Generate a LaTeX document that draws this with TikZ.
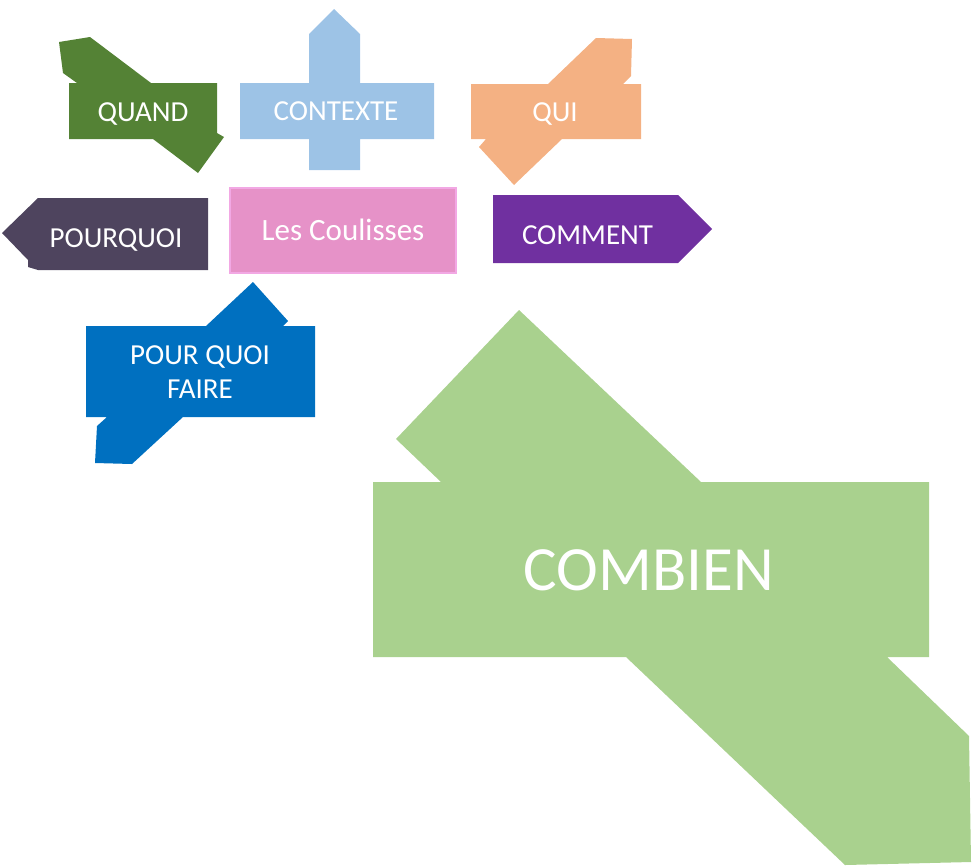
\documentclass[tikz,border=0pt]{standalone}
\usepackage{fontspec}
\setmainfont{Carlito}
\definecolor{cquand}{HTML}{548235}
\definecolor{ccontexte}{HTML}{9DC3E6}
\definecolor{cqui}{HTML}{F4B183}
\definecolor{cpourquoi}{HTML}{4E445E}
\definecolor{ccoulfill}{HTML}{E692C8}
\definecolor{ccouldraw}{HTML}{F2A8E4}
\definecolor{ccomment}{HTML}{7030A0}
\definecolor{cpqf}{HTML}{0070C0}
\definecolor{ccombien}{HTML}{A9D18E}
\begin{document}
\begin{tikzpicture}[x=1pt,y=-1pt,
  blob/.style={draw=none},
  lbl/.style={text=white, anchor=base, inner sep=0pt, font=\fontsize{29}{34}\selectfont}]
\useasboundingbox (0,0) rectangle (973,865);
% QUAND
\fill[cquand] (69,83) -- (77,83) -- (63,73) -- (59,42) -- (90,37) -- (151,83) -- (217,83) -- (217,133) -- (224,137) -- (198,173) -- (153,139) -- (69,139) -- cycle;
% CONTEXTE
\fill[ccontexte] (240,83) -- (309,83) -- (309,34) -- (334,9) -- (360,34) -- (360,83) -- (434,83) -- (434,139) -- (360,139) -- (360,170) -- (309,170) -- (309,139) -- (240,139) -- cycle;
% QUI
\fill[cqui] (471,84) -- (548,84) -- (596,38) -- (632,39) -- (631,76) -- (623,84) -- (641,84) -- (641,139) -- (562,139) -- (514,185) -- (479,147) -- (486,139) -- (471,139) -- cycle;
% POURQUOI
\fill[cpourquoi] (38,198) -- (208,198) -- (208,270) -- (38,270) -- (28,267) -- (28,260) -- (2,233) -- cycle;
% Les Coulisses
\filldraw[fill=ccoulfill, draw=ccouldraw, line width=1.5pt] (230,188) rectangle (456,273);
% COMMENT
\fill[ccomment] (493,195) -- (678,195) -- (712,229) -- (678,263) -- (493,263) -- cycle;
% POUR QUOI FAIRE
\fill[cpqf] (86,326) -- (206,326) -- (253,282) -- (288,321) -- (283,326) -- (315,326) -- (315,417) -- (183,417) -- (132,464) -- (95,463) -- (97,426) -- (107,417) -- (86,417) -- cycle;
% COMBIEN
\fill[ccombien] (373,482) -- (441,482) -- (396,439) -- (519,310) -- (701,482) -- (929,482) -- (929,657) -- (887,657) -- (969,736) -- (971,862) -- (845,865) -- (626,657) -- (373,657) -- cycle;
% labels
\node[lbl] (tquand) at (143,121) {QUAND};
\node[lbl] (tcontexte) at (336,120.7) {CONTEXTE};
\node[lbl] (tqui) at (555,121.7) {QUI};
\node[lbl] (tpourquoi) at (116,247) {POURQUOI};
\node[lbl, font=\fontsize{31}{36}\selectfont] (tcoul) at (343,240) {Les Coulisses};
\node[lbl] (tcomment) at (587.5,244.3) {COMMENT};
\node[lbl, anchor=center, align=center] (tpqf) at (200,372.5) {POUR QUOI\\FAIRE};
\node[lbl, font=\fontsize{63}{70}\selectfont] (tcombien) at (649,590) {COMBIEN};
\end{tikzpicture}
\end{document}
